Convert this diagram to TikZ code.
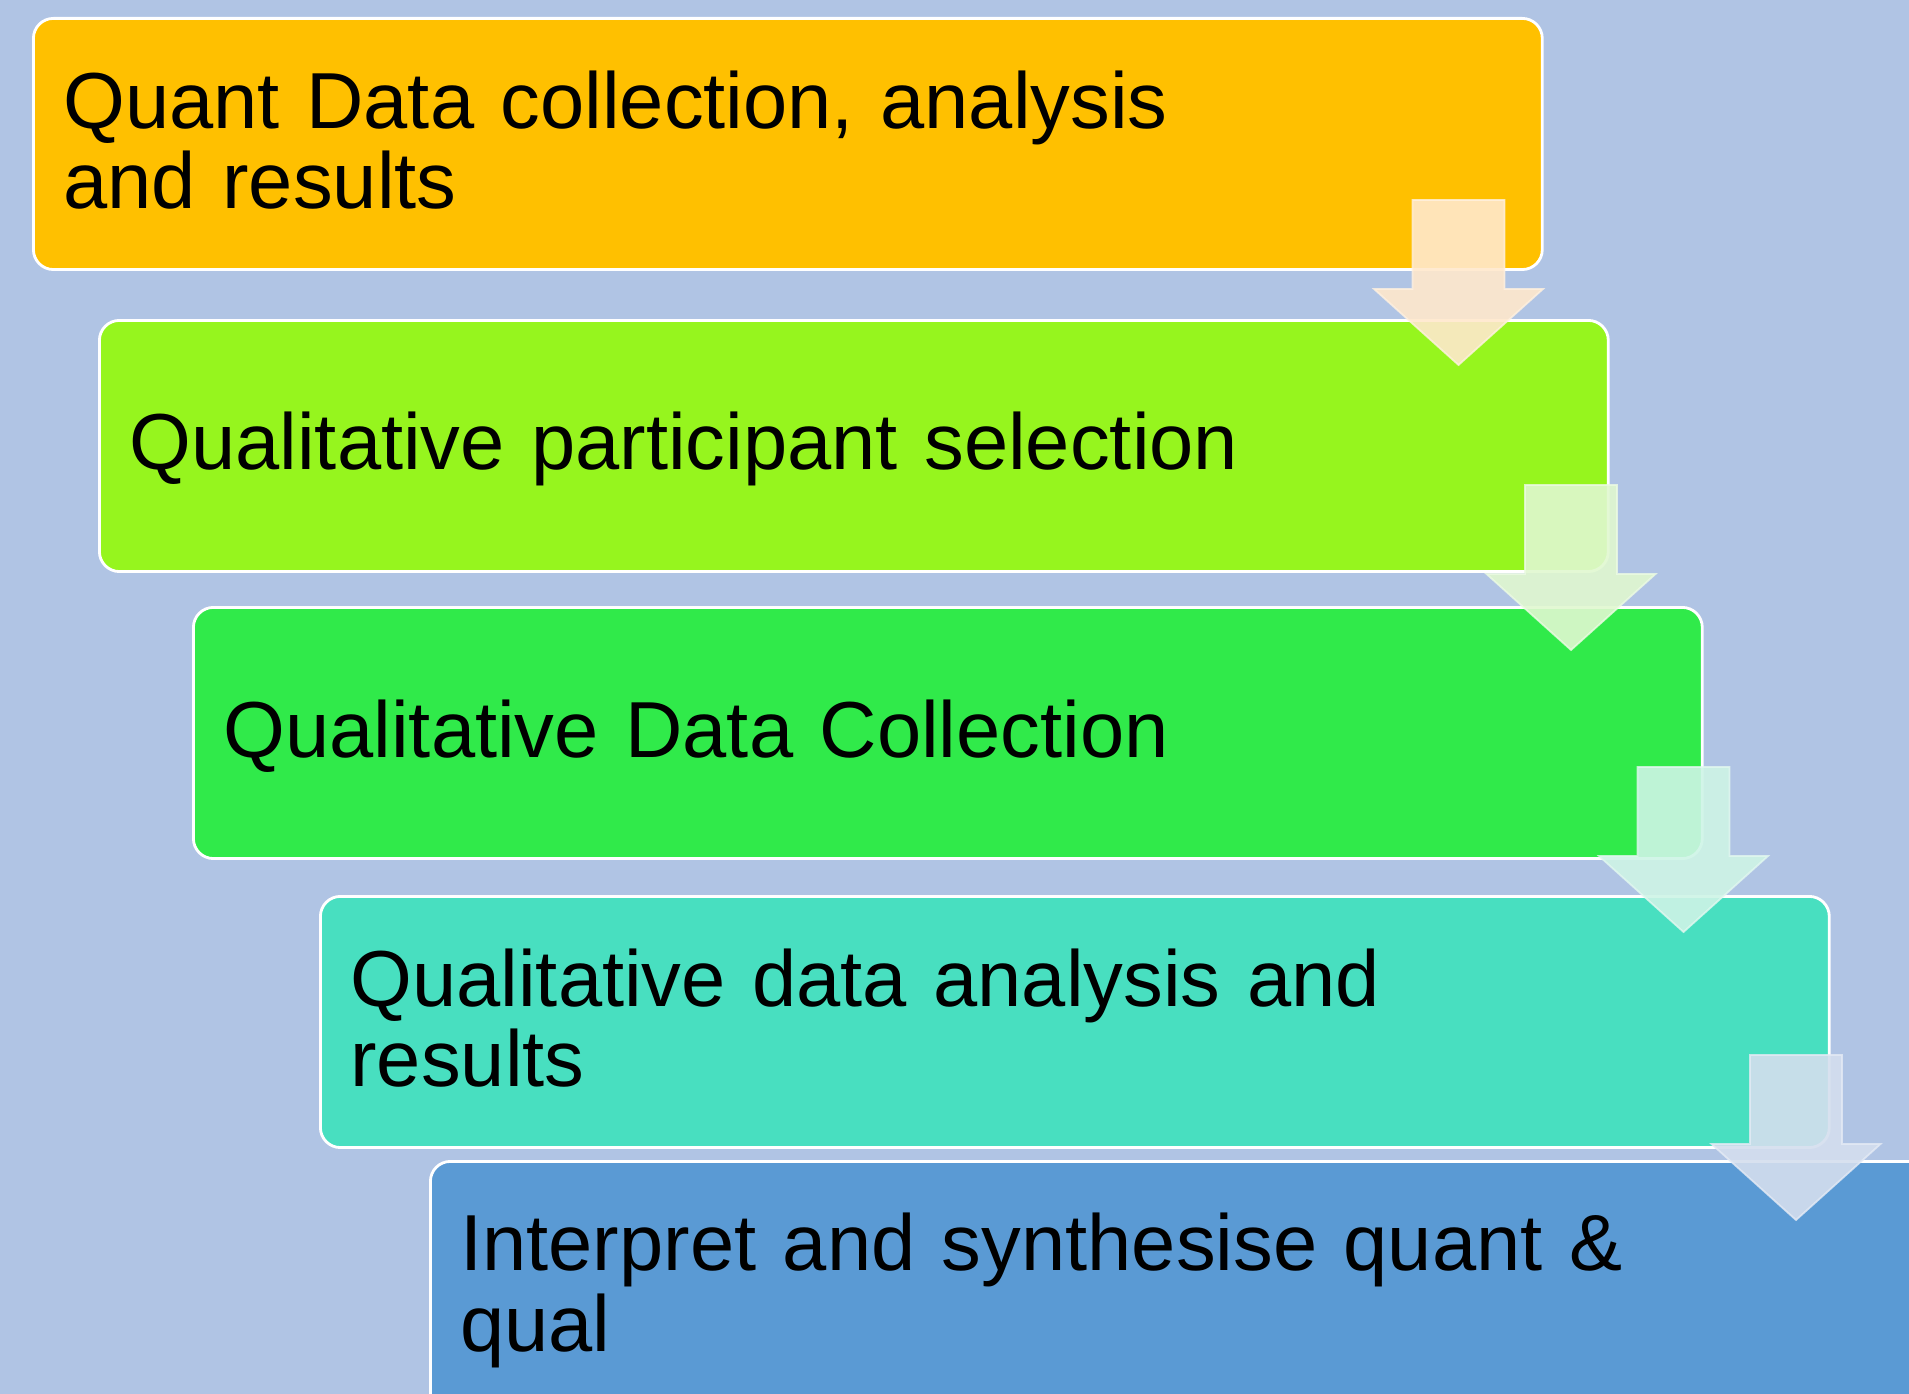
\documentclass[tikz,border=0pt]{standalone}
\usepackage{fontspec}
\setmainfont{Liberation Sans}

\definecolor{bgblue}{RGB}{176,196,228}
\definecolor{stepone}{RGB}{255,192,0}
\definecolor{steptwo}{RGB}{150,245,30}
\definecolor{stepthree}{RGB}{48,234,74}
\definecolor{stepfour}{RGB}{72,223,192}
\definecolor{stepfive}{RGB}{90,154,212}
\definecolor{arrowone}{RGB}{255,232,204}
\definecolor{arrowtwo}{RGB}{224,248,208}
\definecolor{arrowthree}{RGB}{206,244,230}
\definecolor{arrowfour}{RGB}{212,222,238}

% same line box for every step text
\newcommand{\stepstrut}{\rule[-0.15cm]{0pt}{0.79cm}}

% block arrow: centre x, top y, colour
\newcommand{\stepdown}[3]{%
  \filldraw[fill=#3, draw=#3!60!white, fill opacity=0.9, draw opacity=0.8, line width=0.5pt]
    (#1-46,#2) -- (#1+46,#2) -- (#1+46,#2+89) -- (#1+84.5,#2+89) -- (#1,#2+165)
    -- (#1-84.5,#2+89) -- (#1-46,#2+89) -- cycle;}

\begin{document}
\begin{tikzpicture}[x=0.01cm, y=-0.01cm,
  stepbox/.style={draw=white, line width=0.8pt, rounded corners=0.2cm,
    minimum width=15.08cm, minimum height=2.51cm, text width=14.48cm,
    inner xsep=0.3cm, inner ysep=0pt, align=left, anchor=north west,
    font=\fontsize{22.6}{23}\selectfont,
    execute at begin node=\stepstrut, execute at end node=\stepstrut}]
\useasboundingbox (0,0) rectangle (1909,1394);
\clip (0,0) rectangle (1909,1394);
\fill[bgblue] (0,0) rectangle (1909,1394);

% the five steps
\node[stepbox, fill=stepone] (quant) at (32,17) {Quant Data collection, analysis\\and results};
\node[stepbox, fill=steptwo] (select) at (98,319) {Qualitative participant selection};
\node[stepbox, fill=stepthree] (collect) at (192,606) {Qualitative Data Collection};
\node[stepbox, fill=stepfour] (analyse) at (319,895) {Qualitative data analysis and\\results};
\node[stepbox, fill=stepfive] (interpret) at (429,1160) {Interpret and synthesise quant \&\\qual};

% arrows between the steps
\stepdown{1458.5}{200}{arrowone}
\stepdown{1571}{485}{arrowtwo}
\stepdown{1683.5}{767}{arrowthree}
\stepdown{1796}{1055}{arrowfour}
\end{tikzpicture}
\end{document}
